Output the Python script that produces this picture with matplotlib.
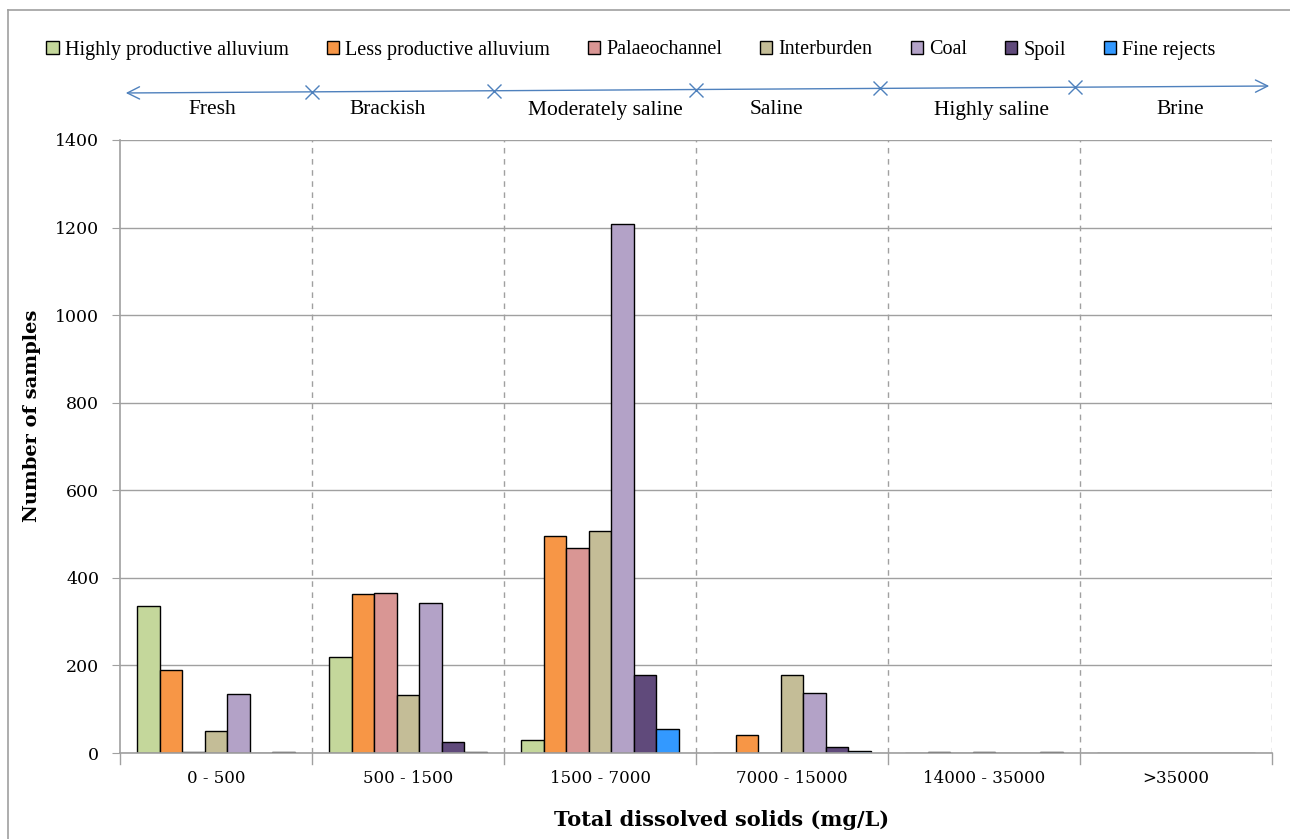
import matplotlib
matplotlib.use("Agg")
import matplotlib.pyplot as plt
import numpy as np
from matplotlib.lines import Line2D
from matplotlib.patches import Patch

categories = ["0 - 500", "500 - 1500", "1500 - 7000", "7000 - 15000", "14000 - 35000", ">35000"]
series_names = ["Highly productive alluvium", "Less productive alluvium", "Palaeochannel",
                "Interburden", "Coal", "Spoil", "Fine rejects"]
highly_productive = [335, 219, 30, 0, 0, 0]
less_productive = [190, 363, 495, 40, 3, 0]
palaeochannel = [2, 366, 468, 0, 0, 0]
interburden = [50, 132, 507, 179, 3, 0]
coal = [134, 342, 1208, 137, 0, 0]
spoil = [0, 25, 178, 14, 0, 0]
fine_rejects = [2, 2, 55, 5, 3, 0]
salinity_classes = ["Fresh", "Brackish", "Moderately saline", "Saline", "Highly saline", "Brine"]

series = [highly_productive, less_productive, palaeochannel, interburden, coal, spoil, fine_rejects]
colors = ["#C4D79B", "#F79646", "#D99694", "#C4BD97", "#B3A2C7", "#604A7B", "#3399FF"]

plt.rcParams['font.family'] = ['Liberation Serif', 'DejaVu Serif']
tick_font = ['DejaVu Serif']

fig = plt.figure(figsize=(12.9, 8.39), dpi=100)
ax = fig.add_axes([120/1290, 1-753/839, (1272-120)/1290, (753-140)/839])

x = np.arange(len(categories))
w = 0.1177
for i, (vals, c, name) in enumerate(zip(series, colors, series_names)):
    ax.bar(x + (i - 3) * w, vals, width=w, color=c, edgecolor="black", linewidth=1.0,
           label=name, zorder=3)

ax.set_xlim(-0.5, len(categories) - 0.5)
ax.set_ylim(0, 1400)
ax.set_yticks(np.arange(0, 1401, 200))
ax.tick_params(axis='y', direction='out', length=6, color='#A0A0A0', labelsize=12.5, pad=9)
for lab in ax.get_yticklabels():
    lab.set_family(tick_font)
ax.set_xticks(x)
ax.set_xticklabels(categories, fontsize=12, family=tick_font)
ax.tick_params(axis='x', length=0, pad=12)
for b in np.arange(-0.5, len(categories), 1.0):
    ax.plot([b, b], [0, -0.018], transform=ax.get_xaxis_transform(), color='#A0A0A0',
            lw=1, clip_on=False, zorder=4)
    if b > -0.5:
        ax.axvline(b, color='#A0A0A0', lw=1, ls=(0, (4, 4)), zorder=1)

ax.yaxis.grid(True, color='#A0A0A0', lw=1, zorder=0)
for s in ['top', 'right']:
    ax.spines[s].set_visible(False)
for s in ['left', 'bottom']:
    ax.spines[s].set_color('#A0A0A0')
    ax.spines[s].set_linewidth(1.2)
ax.spines['bottom'].set_zorder(5)

fig.text(32/1290, 1-416/839, "Number of samples", rotation=90, ha='center', va='center',
         fontsize=14, fontweight='bold', family=tick_font)
fig.text(722/1290, 1-820/839, "Total dissolved solids (mg/L)", ha='center', va='center',
         fontsize=15, fontweight='bold', family=tick_font)

# salinity arrow
arrow_col = "#4F81BD"
def px2ax(px, py):
    return (px - 120) / 192 - 0.5, (753 - py) / 613
lx, ly = px2ax(123, 93)
rx, ry = px2ax(1272, 86)
ax.annotate("", xy=(lx, ly), xytext=(rx, ry), xycoords=('data', 'axes fraction'),
            textcoords=('data', 'axes fraction'),
            arrowprops=dict(arrowstyle='<->', color=arrow_col, lw=1.0, mutation_scale=22),
            annotation_clip=False)
for mpx in [312, 494, 696, 880, 1075]:
    mx = (mpx - 120) / 192 - 0.5
    my = ly + (ry - ly) * (mx - lx) / (rx - lx)
    ax.plot([mx], [my], marker='x', ms=10, mew=1.0, color=arrow_col,
            transform=ax.get_xaxis_transform(), clip_on=False)
label_px = [212, 388, 605, 776, 992, 1180]
for name, lpx in zip(salinity_classes, label_px):
    tx, ty = px2ax(lpx, 110)
    ax.text(tx, ty, name, transform=ax.get_xaxis_transform(), ha='center', va='center',
            fontsize=15.5)

handles = [Patch(facecolor=c, edgecolor='black', linewidth=1.0) for c in colors]
lgx, lgy = px2ax(631, 50)
leg = ax.legend(handles, series_names, loc='center', bbox_to_anchor=(lgx, lgy),
                bbox_transform=ax.get_xaxis_transform(), ncol=7, frameon=False, fontsize=14.5,
                handlelength=0.6, handleheight=0.6, handletextpad=0.3, columnspacing=1.9)

# outer border (left and top)
fig.add_artist(Line2D([8/1290, 8/1290], [0, 1-10/839], color='#A0A0A0', lw=1.2))
fig.add_artist(Line2D([8/1290, 1], [1-10/839, 1-10/839], color='#A0A0A0', lw=1.2))

fig.savefig("out.png", dpi=100)
